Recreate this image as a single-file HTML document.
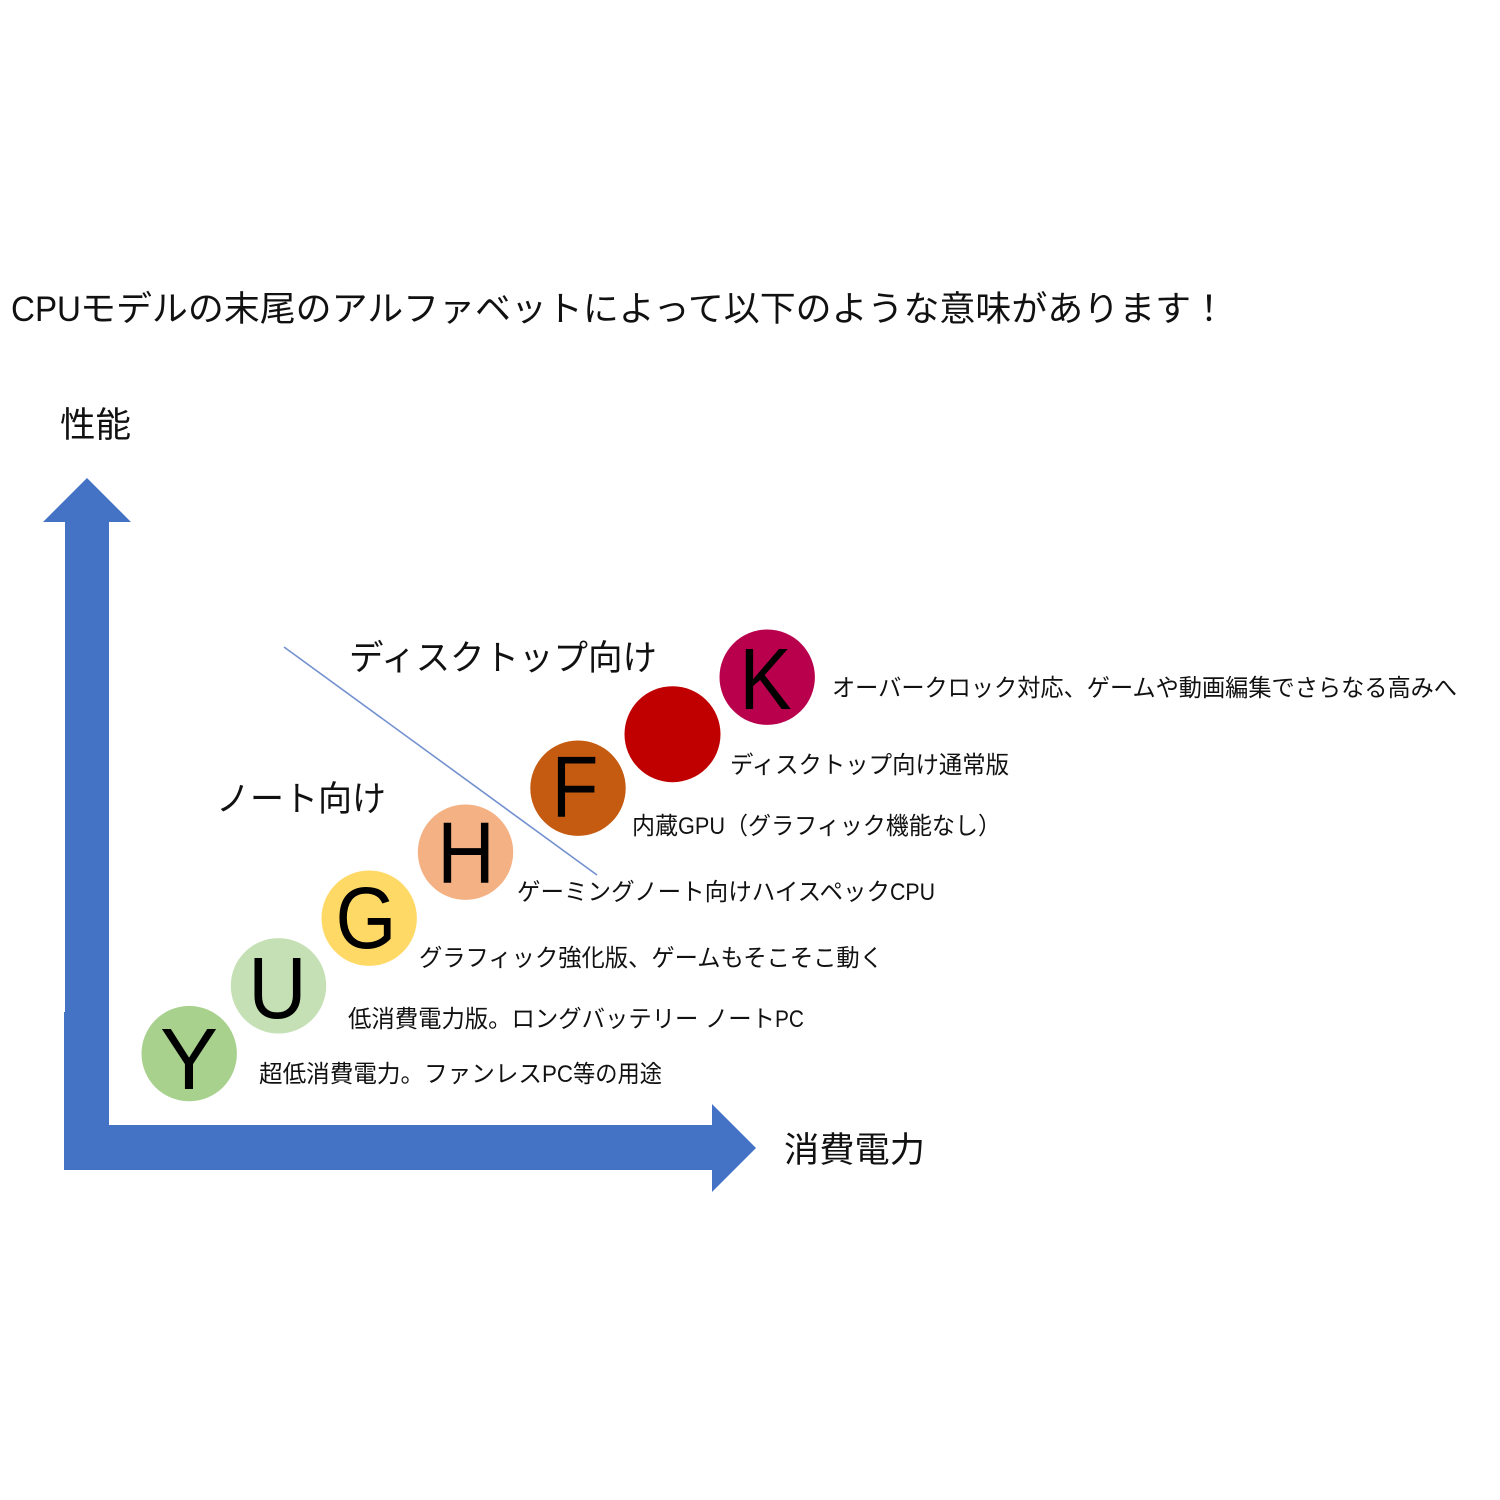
<!DOCTYPE html>
<html lang="ja">
<head>
<meta charset="utf-8">
<style>
html,body{margin:0;padding:0;background:#fff;width:1500px;height:1500px;overflow:hidden}
svg{display:block;filter:blur(0.35px)}
text{font-family:"Liberation Sans","Noto Sans CJK JP",sans-serif;fill:#111}
.L text{fill:#000}
</style>
</head>
<body>
<svg width="1500" height="1500" viewBox="0 0 1500 1500" xmlns="http://www.w3.org/2000/svg">
<rect width="1500" height="1500" fill="#fff"/>
<text x="11" y="321" font-size="35" textLength="70" lengthAdjust="spacingAndGlyphs">CPU</text>
<text x="80" y="321" font-size="35" textLength="1147" lengthAdjust="spacingAndGlyphs">モデルの末尾のアルファベットによって以下のような意味があります！</text>
<text x="60" y="437" font-size="35" textLength="71" lengthAdjust="spacingAndGlyphs">性能</text>
<polygon fill="#4472c4" points="87,478 131,522 109,522 109,1125 712,1125 712,1104 756,1148 712,1192 712,1170 64,1170 64,1012 65,1012 65,522 43,522"/>
<text x="784" y="1162" font-size="35" textLength="141" lengthAdjust="spacingAndGlyphs">消費電力</text>
<line x1="284" y1="647" x2="597" y2="875" stroke="#7391cf" stroke-width="1.6"/>
<text x="349" y="670" font-size="35" textLength="308" lengthAdjust="spacingAndGlyphs">ディスクトップ向け</text>
<text x="216" y="811" font-size="35" textLength="170" lengthAdjust="spacingAndGlyphs">ノート向け</text>
<circle cx="189.2" cy="1053.6" r="47.7" fill="#a9d18e"/>
<circle cx="278.5" cy="985.8" r="47.7" fill="#c5e0b4"/>
<circle cx="369.2" cy="918.2" r="47.7" fill="#ffd966"/>
<circle cx="465.5" cy="852.2" r="47.7" fill="#f4b183"/>
<circle cx="578" cy="788.2" r="47.7" fill="#c55a11"/>
<circle cx="672.5" cy="734.2" r="48" fill="#c00000"/>
<circle cx="767.2" cy="677.2" r="47.7" fill="#b8004c"/>
<g class="L" font-size="87" text-anchor="middle">
<text transform="translate(189 1089)">Y</text>
<text transform="translate(277.5 1018) scale(.93 1)">U</text>
<text transform="translate(366 948) scale(.9 1)">G</text>
<text transform="translate(466 883) scale(.92 1)">H</text>
<text transform="translate(575 817) scale(.88 1)">F</text>
<text transform="translate(765.5 709) scale(.9 1)">K</text>
</g>
<g font-size="24">
<text x="832" y="696" textLength="625" lengthAdjust="spacingAndGlyphs">オーバークロック対応、ゲームや動画編集でさらなる高みへ</text>
<text x="730" y="773" textLength="279" lengthAdjust="spacingAndGlyphs">ディスクトップ向け通常版</text>
<text x="632" y="834" textLength="46" lengthAdjust="spacingAndGlyphs">内蔵</text>
<text x="678" y="834" textLength="47" lengthAdjust="spacingAndGlyphs">GPU</text>
<text x="725" y="834" textLength="276" lengthAdjust="spacingAndGlyphs">（グラフィック機能なし）</text>
<text x="517" y="900" textLength="373" lengthAdjust="spacingAndGlyphs">ゲーミングノート向けハイスペック</text>
<text x="890" y="900" textLength="45" lengthAdjust="spacingAndGlyphs">CPU</text>
<text x="419" y="966" textLength="464" lengthAdjust="spacingAndGlyphs">グラフィック強化版、ゲームもそこそこ動く</text>
<text x="348" y="1027" textLength="427" lengthAdjust="spacingAndGlyphs">低消費電力版。ロングバッテリー ノート</text>
<text x="775" y="1027" textLength="29" lengthAdjust="spacingAndGlyphs">PC</text>
<text x="259" y="1082" textLength="283" lengthAdjust="spacingAndGlyphs">超低消費電力。ファンレス</text>
<text x="542" y="1082" textLength="31" lengthAdjust="spacingAndGlyphs">PC</text>
<text x="573" y="1082" textLength="89" lengthAdjust="spacingAndGlyphs">等の用途</text>
</g>
</svg>
</body>
</html>
